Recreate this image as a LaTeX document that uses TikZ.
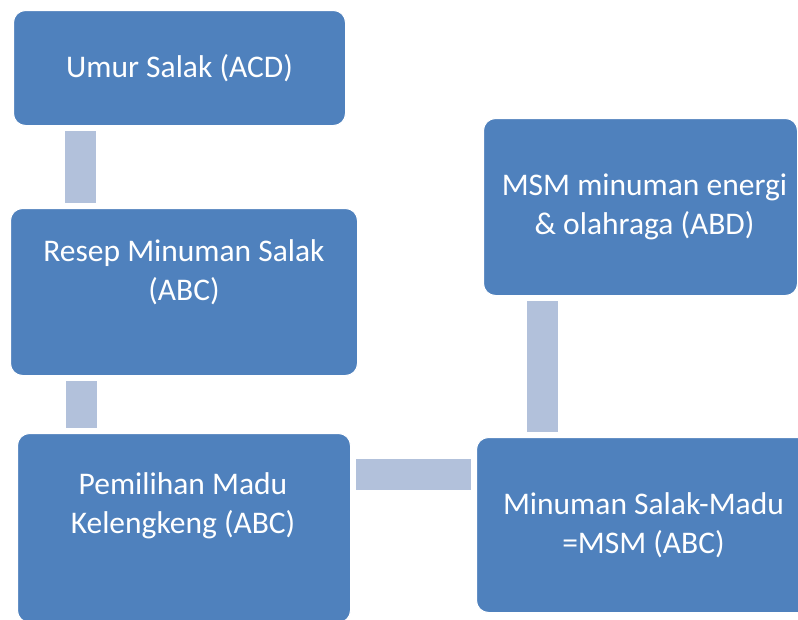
\documentclass[tikz,border=0pt]{standalone}
\usepackage{fontspec}
\setmainfont{Carlito}
\definecolor{boxblue}{HTML}{4F81BD}
\definecolor{linkblue}{HTML}{B2C1DB}
\tikzset{
  box/.style={draw=white, line width=1pt, fill=boxblue, rounded corners=12pt,
    anchor=north west, inner sep=0pt},
  txt/.style={text=white, align=center, font=\fontsize{31.5}{38.5}\selectfont},
  link/.style={draw=linkblue, line width=31pt, shorten <=5pt, shorten >=5pt}
}
\begin{document}
\begin{tikzpicture}[x=1pt, y=-1pt]
\useasboundingbox (0,0) rectangle (798,619);
\clip (0,0) rectangle (798,619);

% boxes
\node[box, minimum width=332pt, minimum height=115pt] (umur) at (13,10) {};
\node[box, minimum width=347pt, minimum height=167pt] (resep) at (10,208) {};
\node[box, minimum width=333pt, minimum height=189pt] (pilih) at (17,433) {};
\node[box, minimum width=314pt, minimum height=177pt] (energi) at (483,118) {};
\node[box, minimum width=340pt, minimum height=175pt] (msm) at (476,437) {};

% texts
\node[txt] (umurT) at (umur.center) {Umur Salak (ACD)};
\node[txt] (resepT) at ([yshift=20pt]resep.center) {Resep Minuman Salak\\(ABC)};
\node[txt] (pilihT) at (183,506) {Pemilihan Madu\\Kelengkeng (ABC)};
\node[txt] (energiT) at ([xshift=4pt]energi.center) {MSM minuman energi\\\& olahraga (ABD)};
\node[txt] (msmT) at ([xshift=-3pt]msm.center) {Minuman Salak-Madu\\=MSM (ABC)};

% links
\draw[link] ([xshift=67pt]umur.south west) -- ([xshift=67pt]umur.south west |- resep.north);
\draw[link] ([xshift=71.5pt]resep.south west) -- ([xshift=71.5pt]resep.south west |- pilih.north);
\draw[link] ([yshift=-41pt]pilih.north east) -- ([yshift=-41pt]pilih.north east -| msm.west);
\draw[link] ([xshift=59pt]energi.south west) -- ([xshift=59pt]energi.south west |- msm.north);
\end{tikzpicture}
\end{document}
